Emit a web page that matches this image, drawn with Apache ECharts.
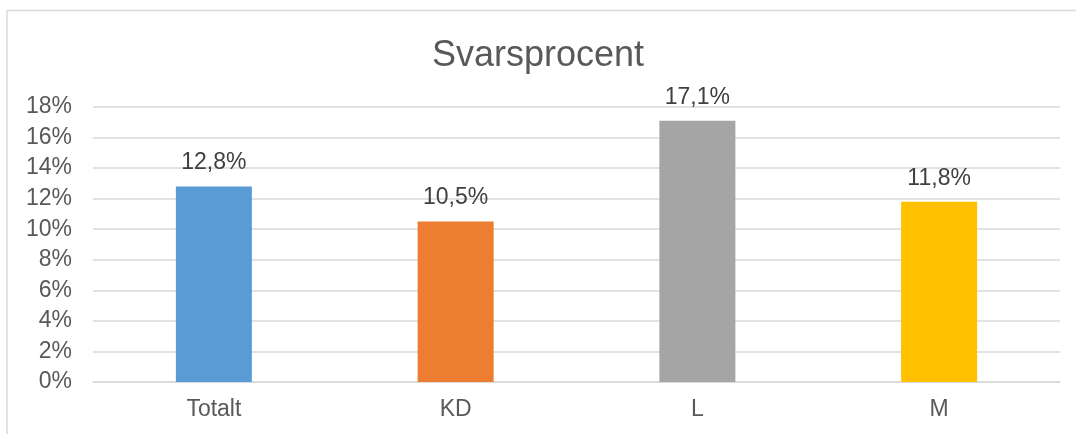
<!DOCTYPE html>
<html>
<head>
<meta charset="utf-8">
<script src="https://cdn.jsdelivr.net/npm/echarts@6/dist/echarts.min.js"></script>
<style>
html,body{margin:0;padding:0;background:#fff;}
#c{width:1076px;height:434px;}
</style>
</head>
<body>
<div id="c"></div>
<script>
const categories = ['Totalt', 'KD', 'L', 'M'];
const values = [12.8, 10.5, 17.1, 11.8];
const barColors = ['#5B9BD5', '#ED7D31', '#A5A5A5', '#FFC000'];
const yTicks = { min: 0, max: 18, interval: 2 };
const titleText = 'Svarsprocent';

const chart = echarts.init(document.getElementById('c'), null, { renderer: 'canvas' });
const font = 'Liberation Sans, Arial, sans-serif';
chart.setOption({
  animation: false,
  backgroundColor: '#fff',
  title: {
    text: titleText,
    left: 'center',
    top: 33,
    textStyle: { fontFamily: font, fontSize: 36, fontWeight: 'normal', color: '#595959' }
  },
  graphic: [
    { type: 'line', shape: { x1: 7, y1: 10.5, x2: 1076, y2: 10.5 }, style: { stroke: '#D9D9D9', lineWidth: 1.5 } },
    { type: 'line', shape: { x1: 7, y1: 10.5, x2: 7, y2: 434 }, style: { stroke: '#D9D9D9', lineWidth: 1.5 } }
  ],
  grid: { left: 93, right: 16, top: 107, bottom: 52, containLabel: false },
  xAxis: {
    type: 'category',
    data: categories,
    axisLine: { show: true, lineStyle: { color: '#D9D9D9', width: 1.5 } },
    axisTick: { show: false },
    axisLabel: { fontFamily: font, fontSize: 23, color: '#595959', margin: 16 }
  },
  yAxis: {
    type: 'value',
    min: yTicks.min, max: yTicks.max, interval: yTicks.interval,
    axisLine: { show: false },
    axisTick: { show: false },
    splitLine: { lineStyle: { color: '#D9D9D9', width: 1.5 } },
    axisLabel: { fontFamily: font, fontSize: 23, color: '#595959', margin: 21, formatter: v => v + '%' }
  },
  series: [{
    type: 'bar',
    barWidth: 76,
    data: values.map((v, i) => ({ value: v, itemStyle: { color: barColors[i] } })),
    label: {
      show: true,
      position: 'top',
      distance: 12,
      fontFamily: font,
      fontSize: 23,
      color: '#404040',
      formatter: p => p.value.toFixed(1).replace('.', ',') + '%'
    }
  }]
});
</script>
</body>
</html>
